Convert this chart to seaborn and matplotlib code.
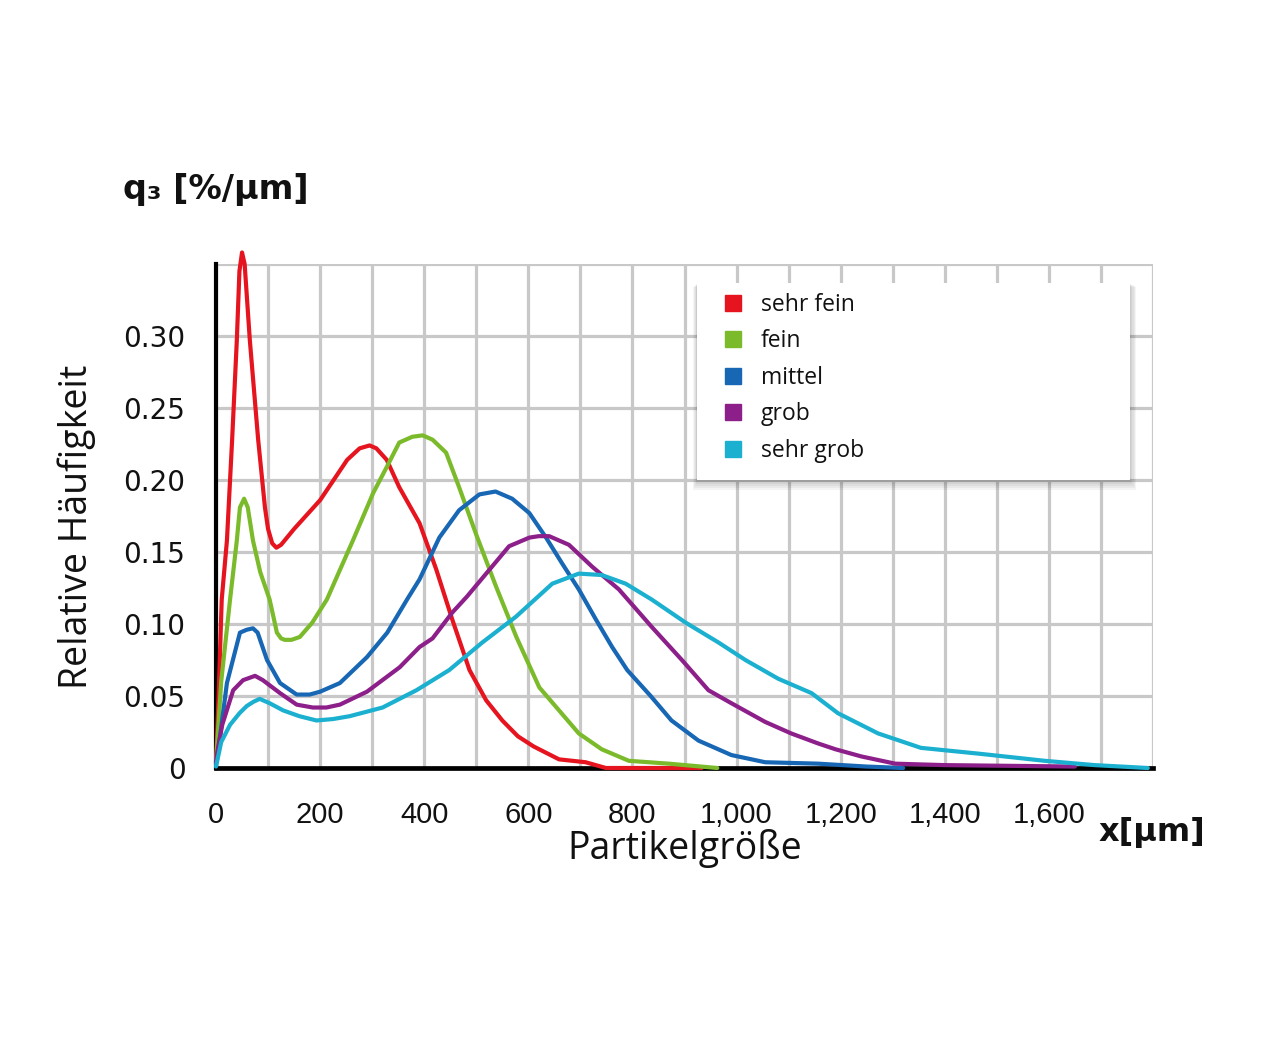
import matplotlib
matplotlib.use("Agg")
import numpy as np
import pandas as pd
from matplotlib import pyplot as plt
from matplotlib.lines import Line2D
from matplotlib.patches import Rectangle
from matplotlib.ticker import FixedLocator, FuncFormatter
import seaborn as sns

####### Data (x in µm, y in %/µm) #######

sehr_fein_x = [0, 5, 11, 21, 31, 40, 45, 50, 55, 65, 81, 94, 100, 108, 116, 125, 150, 200,
               252, 276, 295, 308, 328, 352, 391, 423, 454, 487, 519, 550, 580, 610, 659,
               710, 749, 933]
sehr_fein_y = [0.003, 0.05, 0.117, 0.158, 0.228, 0.297, 0.345, 0.358, 0.350, 0.297, 0.228,
               0.181, 0.166, 0.156, 0.153, 0.155, 0.166, 0.186, 0.214, 0.222, 0.224, 0.222,
               0.214, 0.195, 0.170, 0.138, 0.103, 0.068, 0.047, 0.033, 0.022, 0.015, 0.006,
               0.004, 0.0, 0.0]

fein_x = [0, 10, 27, 40, 46, 54, 61, 71, 85, 103, 117, 125, 132, 145, 161, 185, 213, 263,
          302, 328, 352, 377, 397, 416, 442, 467, 500, 538, 577, 621, 659, 697, 741, 793,
          870, 963]
fein_y = [0.004, 0.06, 0.117, 0.158, 0.181, 0.187, 0.181, 0.158, 0.136, 0.117, 0.094, 0.090,
          0.089, 0.089, 0.091, 0.101, 0.117, 0.158, 0.191, 0.209, 0.226, 0.230, 0.231, 0.228,
          0.219, 0.195, 0.162, 0.126, 0.091, 0.056, 0.040, 0.024, 0.013, 0.005, 0.003, 0.0]

mittel_x = [0, 2, 21, 46, 59, 71, 80, 98, 123, 155, 180, 200, 238, 290, 329, 367, 391, 429,
            467, 506, 537, 569, 602, 634, 665, 697, 730, 761, 790, 835, 875, 927, 990, 1055,
            1157, 1250, 1320]
mittel_y = [0.003, 0.006, 0.059, 0.094, 0.096, 0.097, 0.094, 0.075, 0.059, 0.051, 0.051,
            0.053, 0.059, 0.077, 0.094, 0.117, 0.131, 0.160, 0.179, 0.190, 0.192, 0.187,
            0.177, 0.160, 0.142, 0.124, 0.103, 0.084, 0.068, 0.050, 0.033, 0.019, 0.009,
            0.004, 0.003, 0.001, 0.0]

grob_x = [0, 2, 12, 33, 52, 75, 90, 123, 155, 186, 212, 238, 290, 353, 391, 416, 454, 482,
          519, 563, 602, 620, 640, 678, 722, 774, 837, 895, 946, 990, 1055, 1105, 1157,
          1190, 1240, 1305, 1400, 1650]
grob_y = [0.004, 0.010, 0.030, 0.054, 0.061, 0.064, 0.061, 0.052, 0.044, 0.042, 0.042,
          0.044, 0.053, 0.070, 0.084, 0.090, 0.108, 0.119, 0.135, 0.154, 0.160, 0.161,
          0.161, 0.155, 0.140, 0.124, 0.098, 0.075, 0.054, 0.045, 0.032, 0.024, 0.017,
          0.013, 0.008, 0.003, 0.002, 0.001]

sehr_grob_x = [0, 10, 27, 45, 59, 72, 84, 103, 129, 160, 193, 225, 257, 320, 385, 448, 511,
               576, 646, 697, 741, 787, 837, 902, 966, 1017, 1080, 1144, 1195, 1272, 1354,
               1464, 1592, 1688, 1790]
sehr_grob_y = [0.001, 0.018, 0.030, 0.038, 0.043, 0.046, 0.048, 0.045, 0.040, 0.036, 0.033,
               0.034, 0.036, 0.042, 0.054, 0.068, 0.087, 0.105, 0.128, 0.135, 0.134, 0.128,
               0.117, 0.101, 0.087, 0.075, 0.062, 0.052, 0.038, 0.024, 0.014, 0.010, 0.005,
               0.002, 0.0]

series = ["sehr fein", "fein", "mittel", "grob", "sehr grob"]
colors = ["#e5141f", "#7bbb2b", "#1767b4", "#8c1f89", "#1cb0d0"]

x_ticks = [0, 200, 400, 600, 800, 1000, 1200, 1400, 1600, 1800]
y_ticks = [0, 0.05, 0.10, 0.15, 0.20, 0.25, 0.30, 0.35]


def build_frame():
    """Long-form table for seaborn"""
    parts = []
    for name, xs, ys in zip(series,
                            [sehr_fein_x, fein_x, mittel_x, grob_x, sehr_grob_x],
                            [sehr_fein_y, fein_y, mittel_y, grob_y, sehr_grob_y]):
        parts.append(pd.DataFrame({"size": xs, "q3": ys, "klasse": name}))
    return pd.concat(parts, ignore_index=True)


df = build_frame()

sns.set_style("white")
plt.rcParams["font.family"] = ["DejaVu Sans"]

W, H = 1284, 1056
fig = plt.figure(figsize=(W / 100, H / 100), dpi=100)
ax = fig.add_axes([216 / W, 1 - 768 / H, (1153 - 216) / W, (768 - 264) / H])

sns.lineplot(data=df, x="size", y="q3", hue="klasse", hue_order=series,
             palette=dict(zip(series, colors)), sort=False, estimator=None,
             linewidth=3.0, legend=False, ax=ax)
for line in ax.lines:
    line.set_clip_on(False)
    line.set_zorder(3)
    line.set_solid_joinstyle("round")
    line.set_solid_capstyle("round")

ax.set_xlim(0, 1800)
ax.set_ylim(0, 0.35)

# grid every 100 µm, labels every 200 µm
ax.xaxis.set_major_locator(FixedLocator(x_ticks))
ax.xaxis.set_minor_locator(FixedLocator(list(range(100, 1800, 200))))
ax.yaxis.set_major_locator(FixedLocator(y_ticks))
ax.xaxis.set_major_formatter(FuncFormatter(
    lambda v, p: "" if v >= 1800 else "{:,}".format(int(v))))
ax.yaxis.set_major_formatter(FuncFormatter(
    lambda v, p: "" if v > 0.34 else ("0" if v == 0 else "{:.2f}".format(v))))

ax.grid(True, which="both", color="#c8c8c8", linewidth=2.3, zorder=0)
ax.set_axisbelow(True)
ax.tick_params(axis="both", which="both", length=0, labelcolor="#111111")
ax.tick_params(axis="y", pad=22, labelsize=20)
ax.tick_params(axis="x", pad=24, labelsize=21)
for lab in ax.get_xticklabels():
    lab.set_family(["Liberation Sans", "DejaVu Sans"])

ax.set_xlabel("")
ax.set_ylabel("")
for side in ["top", "right"]:
    ax.spines[side].set_visible(False)
ax.spines["left"].set_linewidth(3)
ax.spines["bottom"].set_linewidth(3.4)
ax.spines["left"].set_color("black")
ax.spines["bottom"].set_color("black")

# legend box with soft shadow
bx0, bx1 = (697 - 216) / 937, (1130 - 216) / 937
by0, by1 = (768 - 480) / 504, (768 - 283) / 504
for k in range(5):
    grow = (k + 1) * 0.0025
    ax.add_patch(Rectangle((bx0 - grow * 0.3, by0 - grow * 1.6), bx1 - bx0 + grow * 0.8,
                           by1 - by0 + grow, transform=ax.transAxes, facecolor="black",
                           alpha=0.045, edgecolor="none", zorder=4, clip_on=False))
ax.add_patch(Rectangle((bx0, by0), bx1 - bx0, by1 - by0, transform=ax.transAxes,
                       facecolor="white", edgecolor="none", zorder=4.5, clip_on=False))

handles = [Line2D([], [], marker="s", linestyle="", markersize=11.5, color=c) for c in colors]
leg = ax.legend(handles, series, loc="upper left",
                bbox_to_anchor=((701 - 216) / 937, (768 - 272) / 504),
                frameon=False, handlelength=1.0, handletextpad=0.72,
                labelspacing=0.545, prop={"family": "Open Sans", "size": 16.5})
for t in leg.get_texts():
    t.set_color("#111111")
leg.set_zorder(5)

# axis titles
fig.text(77 / W, 1 - 527 / H, "Relative Häufigkeit", rotation=90, ha="center",
         va="center", fontsize=27, family="Open Sans", color="#111111")
fig.text(685 / W, 1 - 848 / H, "Partikelgröße", ha="center", va="center",
         fontsize=27, family="Open Sans", color="#111111")
fig.text(1152 / W, 1 - 833 / H, "x[µm]", ha="center", va="center",
         fontsize=23, fontweight="bold", color="#111111")
fig.text(123 / W, 1 - 190 / H, "q₃ [%/µm]", ha="left", va="center",
         fontsize=24, fontweight="bold", color="#111111")

fig.savefig("out.png", dpi=100, facecolor="white")
